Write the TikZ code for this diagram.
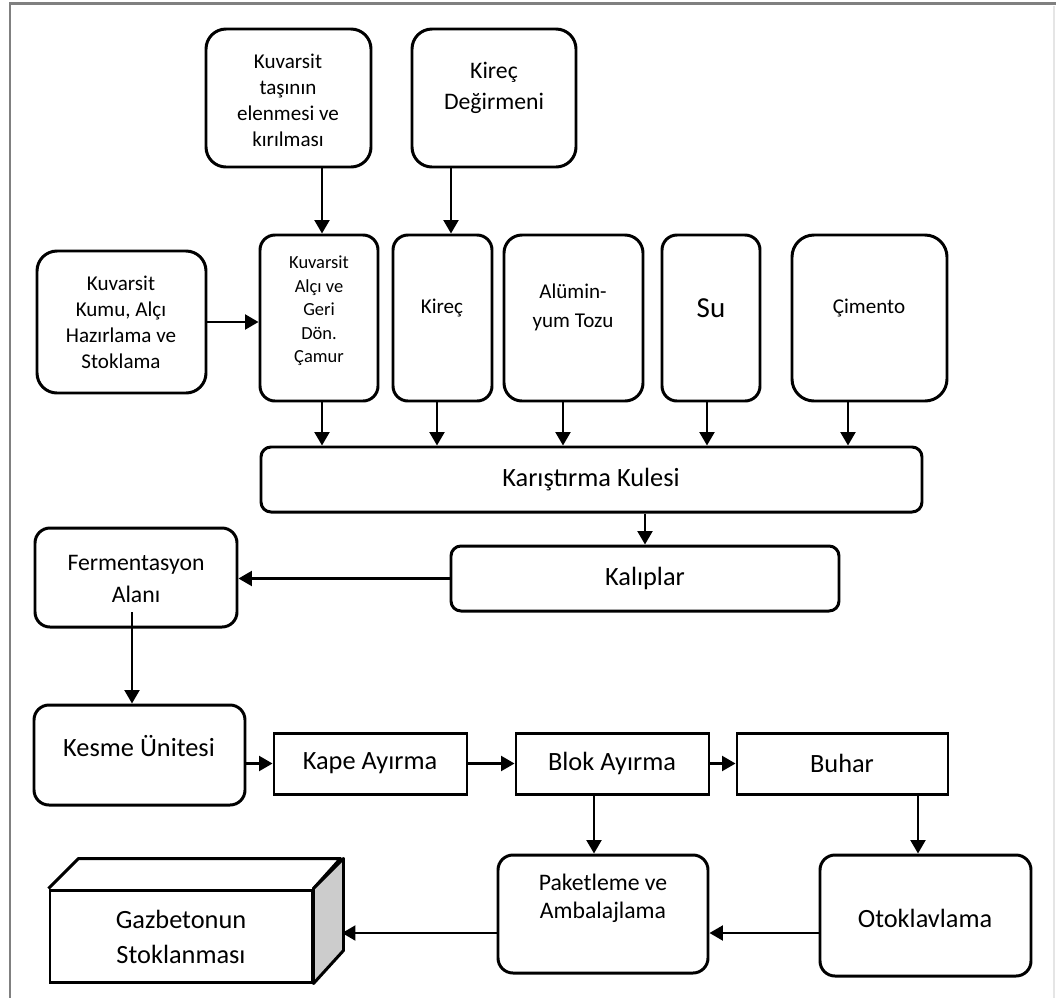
\documentclass[tikz,border=0pt]{standalone}
\usepackage{fontspec}
\setmainfont{Carlito}
\usetikzlibrary{arrows.meta,fit}

\newcommand\fsz[2]{\fontsize{#1}{#2}\selectfont}

\tikzset{
  rbox/.style={draw, line width=1.7pt, rounded corners=#1, inner sep=0pt},
  rbox/.default=0.3cm,
  sbox/.style={draw, line width=1.7pt, inner sep=0pt},
  txt/.style={align=center, inner sep=0pt},
  arr/.style={line width=1.3pt, -{Triangle[length=0.27cm,width=0.3cm]}},
}

\begin{document}
\begin{tikzpicture}[x=0.02cm, y=-0.02cm]
        \useasboundingbox (0,0) rectangle (1056,998);
        % frame
        \draw[line width=0.06cm, gray] (10,998) -- (10,3) -- (1056,3);
        \draw[line width=0.04cm, gray!20] (1054,6) -- (1054,998);

        % top row
        \node[rbox=0.4cm, fit={(206,29) (371,167)}] (kuvtas) {};
        \node[txt, font=\fsz{12}{14.8}] (kuvtas-t) at (288,100) {Kuvarsit\\taşının\\elenmesi ve\\kırılması};
        \node[rbox=0.4cm, fit={(412,29) (576,167)}] (kirdeg) {};
        \node[txt, font=\fsz{13.5}{17.6}] (kirdeg-t) at (494,88) {Kireç\\Değirmeni};

        % raw materials
        \node[rbox=0.4cm, fit={(37,251) (206,393)}] (kuvkum) {};
        \node[txt, font=\fsz{12}{14.8}] (kuvkum-t) at (121,322) {Kuvarsit\\Kumu, Alçı\\Hazırlama ve\\Stoklama};
        \node[rbox, fit={(260,235) (378,401)}] (kuvalci) {};
        \node[txt, font=\fsz{10.5}{13.4}] (kuvalci-t) at (319,311) {Kuvarsit\\Alçı ve\\Geri\\Dön.\\Çamur};
        \node[rbox, fit={(393,235) (492,401)}] (kirec) {};
        \node[txt, font=\fsz{12}{14.4}] (kirec-t) at (442,308) {Kireç};
        \node[rbox=0.36cm, fit={(504,235) (643,401)}] (alum) {};
        \node[txt, font=\fsz{12}{16.5}] (alum-t) at (573,307) {Alümin-\\yum Tozu};
        \node[rbox, fit={(662,235) (760,401)}] (su) {};
        \node[txt, font=\fsz{16.5}{19}] (su-t) at (711,308) {Su};
        \node[rbox=0.44cm, fit={(792,235) (947,401)}] (cim) {};
        \node[txt, font=\fsz{12}{14.4}] (cim-t) at (869,308) {Çimento};

        % mixing and moulds
        \node[rbox=0.2cm, fit={(261,447) (922,512)}] (karis) {};
        \node[txt, font=\fsz{15}{18}] (karis-t) at (591,480) {Karıştırma Kulesi};
        \node[rbox=0.2cm, fit={(451,546) (839,611)}] (kalip) {};
        \node[txt, font=\fsz{15}{18}] (kalip-t) at (645,578) {Kalıplar};
        \node[rbox, fit={(35,528) (237,627)}] (ferm) {};
        \node[txt, font=\fsz{13.5}{18.2}] (ferm-t) at (136,579) {Fermentasyon\\Alanı};

        % cutting line
        \node[rbox, fit={(34,705) (245,805)}] (kesme) {};
        \node[txt, font=\fsz{15}{18}] (kesme-t) at (139,746) {Kesme Ünitesi};
        \node[sbox, fit={(274,733) (467,794)}] (kape) {};
        \node[txt, font=\fsz{15}{18}] (kape-t) at (370,763) {Kape Ayırma};
        \node[sbox, fit={(516,733) (709,794)}] (blok) {};
        \node[txt, font=\fsz{15}{18}] (blok-t) at (612,763) {Blok Ayırma};
        \node[sbox, fit={(737,733) (948,794)}] (buhar) {};
        \node[txt, font=\fsz{15}{18}] (buhar-t) at (842,763) {Buhar};

        % bottom row
        \node[rbox, fit={(498,855) (708,973)}] (paket) {};
        \node[txt, font=\fsz{13.5}{15.8}] (paket-t) at (603,898) {Paketleme ve\\Ambalajlama};
        \node[rbox, fit={(820,855) (1031,976)}] (otok) {};
        \node[txt, font=\fsz{15}{18}] (otok-t) at (925,918) {Otoklavlama};

        % storage block
        \node[sbox, fit={(50,890) (312,982)}] (stok) {};
        \draw[line width=1.7pt, line join=round] (stok.north west) -- ++(30,-30) -- ++(262,0) -- (stok.north east);
        \filldraw[fill=black!20, line width=1.7pt, line join=round] (stok.north east) -- ++(30,-30) -- ++(0,92) -- (stok.south east) -- cycle;
        \coordinate (stokback) at (342,933);
        \node[txt, font=\fsz{15}{20}] (stok-t) at (181,937) {Gazbetonun\\Stoklanması};

        % arrows
        \draw[arr] (kuvtas.south -| 322,0) -- (kuvalci.north -| 322,0);
        \draw[arr] (kirdeg.south -| 451,0) -- (kirec.north -| 451,0);
        \draw[arr] (kuvkum.east) -- (kuvkum.east -| kuvalci.west);
        \draw[arr] (kuvalci.south -| 322,0) -- (karis.north -| 322,0);
        \draw[arr] (kirec.south -| 437,0) -- (karis.north -| 437,0);
        \draw[arr] (alum.south -| 563,0) -- (karis.north -| 563,0);
        \draw[arr] (su.south -| 707,0) -- (karis.north -| 707,0);
        \draw[arr] (cim.south -| 848,0) -- (karis.north -| 848,0);
        \draw[arr] (karis.south -| kalip.north) -- (kalip.north);
        \draw[arr] (kalip.west) -- (kalip.west -| ferm.east);
        \coordinate (fermout) at (132,612);
        \draw[arr] (fermout) -- (kesme.north -| fermout);
        \draw[arr] (kesme.east |- kape.west) -- (kape.west);
        \draw[arr] (kape.east) -- (blok.west);
        \draw[arr] (blok.east) -- (buhar.west);
        \draw[arr] (blok.south -| 594,0) -- (paket.north -| 594,0);
        \draw[arr] (buhar.south -| 918,0) -- (otok.north -| 918,0);
        \draw[arr] (otok.west |- stokback) -- (paket.east |- stokback);
        \draw[arr] (paket.west |- stokback) -- (stokback);
\end{tikzpicture}
\end{document}
